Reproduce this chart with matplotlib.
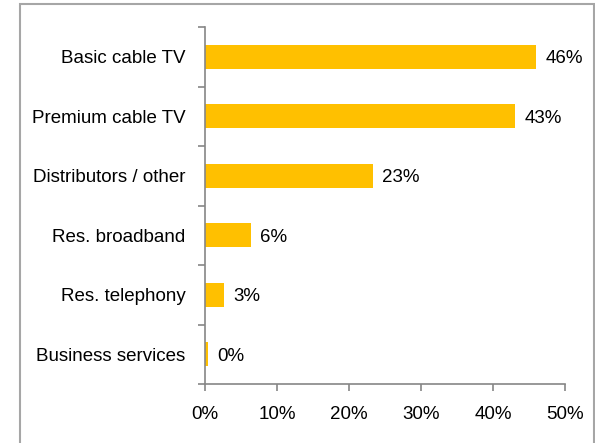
import matplotlib.pyplot as plt
from matplotlib.patches import Rectangle
from matplotlib.ticker import FuncFormatter

categories = ["Basic cable TV", "Premium cable TV", "Distributors / other",
              "Res. broadband", "Res. telephony", "Business services"]
values = [46.0, 43.1, 23.3, 6.4, 2.7, 0.4]
labels = ["46%", "43%", "23%", "6%", "3%", "0%"]

plt.rcParams["font.family"] = ["Liberation Sans", "DejaVu Sans"]

W, H = 595, 443
FS = 13.5
fig = plt.figure(figsize=(W / 100, H / 100), dpi=100)
ax = fig.add_axes([205 / W, 1 - 384 / H, 360 / W, 357 / H])

pos = list(range(len(categories)))[::-1]
ax.barh(pos, values, height=0.4, color="#FFC000")
for p, v, t in zip(pos, values, labels):
    ax.text(v + 1.25, p, t, va="center_baseline", ha="left", fontsize=FS, color="black")

ax.set_xlim(0, 50)
ax.set_ylim(-0.5, len(categories) - 0.5)
ax.set_xticks([0, 10, 20, 30, 40, 50])
ax.xaxis.set_major_formatter(FuncFormatter(lambda x, _: f"{x:.0f}%"))
ax.set_yticks(pos)
ax.set_yticklabels(categories)
ax.set_yticks([p + 0.5 for p in range(len(categories))] + [-0.5], minor=True)
ax.tick_params(axis="y", which="major", length=0, pad=14, labelsize=FS)
ax.tick_params(axis="y", which="minor", length=5, width=1.2, color="#868686")
ax.tick_params(axis="x", length=5, width=1.2, color="#868686", labelsize=FS, pad=10.5)

for s in ["top", "right"]:
    ax.spines[s].set_visible(False)
for s in ["left", "bottom"]:
    ax.spines[s].set_color("#868686")
    ax.spines[s].set_linewidth(1.2)

fig.patches.append(Rectangle((20 / W, -0.05), 574 / W, 1.05 - 4 / H,
                             transform=fig.transFigure, fill=False,
                             edgecolor="#A6A6A6", linewidth=1.5))

fig.savefig("out.png", dpi=100)
